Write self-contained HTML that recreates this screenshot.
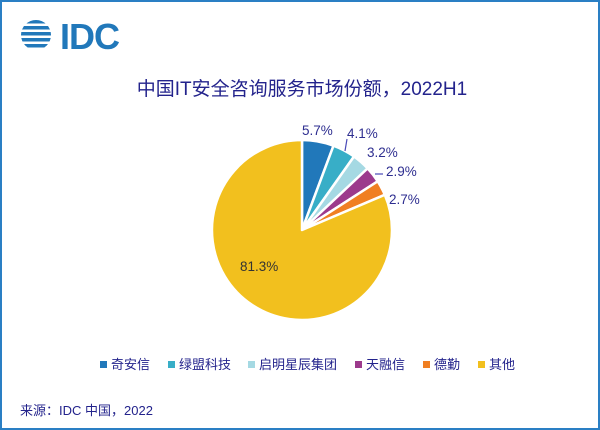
<!DOCTYPE html>
<html><head><meta charset="utf-8"><style>
body{margin:0;width:600px;height:430px;overflow:hidden;background:#fff;font-family:"Liberation Sans","Noto Sans CJK SC",sans-serif}
.frame{position:absolute;left:0;top:0;width:596px;height:426px;border:2px solid #2a7fc4}
</style></head><body>
<div class="frame"></div>
<svg width="600" height="430" style="position:absolute;left:0;top:0" font-family="Liberation Sans, Noto Sans CJK SC, sans-serif">
<g fill="#2178BA">
<clipPath id="c"><circle cx="36" cy="35" r="15"/></clipPath>
<g clip-path="url(#c)">
<rect x="20" y="20" width="34" height="3.5"/><rect x="20" y="26" width="34" height="3.5"/><rect x="20" y="32" width="34" height="3.5"/><rect x="20" y="38" width="34" height="3.5"/><rect x="20" y="44" width="34" height="3.5"/>
</g>
<text x="60" y="49" font-size="36" font-weight="bold" fill="#2178BA" letter-spacing="-1">IDC</text>
</g>
<text x="302" y="95" font-size="19" fill="#23238c" text-anchor="middle">中国IT安全咨询服务市场份额，2022H1</text>
<g stroke="#fff" stroke-width="2.5" stroke-linejoin="round">
<path d="M302,230 L302,140 A90,90 0 0 1 333.5,145.7Z" fill="#2178BA"/>
<path d="M302,230 L333.5,145.7 A90,90 0 0 1 354,156.5Z" fill="#38AEC7"/>
<path d="M302,230 L354,156.5 A90,90 0 0 1 367.6,168.4Z" fill="#A5D9E3"/>
<path d="M302,230 L367.6,168.4 A90,90 0 0 1 377.7,181.3Z" fill="#9C3A8C"/>
<path d="M302,230 L377.7,181.3 A90,90 0 0 1 384.8,194.8Z" fill="#F07F22"/>
<path d="M302,230 L384.8,194.8 A90,90 0 1 1 302,140Z" fill="#F2C01E"/>
</g>
<g stroke="#4a4ab8" stroke-width="1.2" fill="none">
<path d="M347,139 L345,151"/><path d="M375,174 L383,174"/>
</g>
<g font-size="13.5" fill="#2e2e90">
<text x="302" y="135">5.7%</text>
<text x="347" y="138">4.1%</text>
<text x="367" y="157">3.2%</text>
<text x="386" y="176">2.9%</text>
<text x="389" y="204">2.7%</text>
<text x="240" y="271" fill="#333">81.3%</text>
</g>
<g font-size="13" fill="#23238c">
<rect x="100" y="361" width="7" height="7" fill="#2178BA"/><text x="111" y="369">奇安信</text>
<rect x="168" y="361" width="7" height="7" fill="#38AEC7"/><text x="179" y="369">绿盟科技</text>
<rect x="248" y="361" width="7" height="7" fill="#A5D9E3"/><text x="259" y="369">启明星辰集团</text>
<rect x="355" y="361" width="7" height="7" fill="#9C3A8C"/><text x="366" y="369">天融信</text>
<rect x="423" y="361" width="7" height="7" fill="#F07F22"/><text x="434" y="369">德勤</text>
<rect x="478" y="361" width="7" height="7" fill="#F2C01E"/><text x="489" y="369">其他</text>
</g>
<text x="20" y="415" font-size="13" fill="#23238c">来源：IDC 中国，2022</text>
</svg>
</body></html>
